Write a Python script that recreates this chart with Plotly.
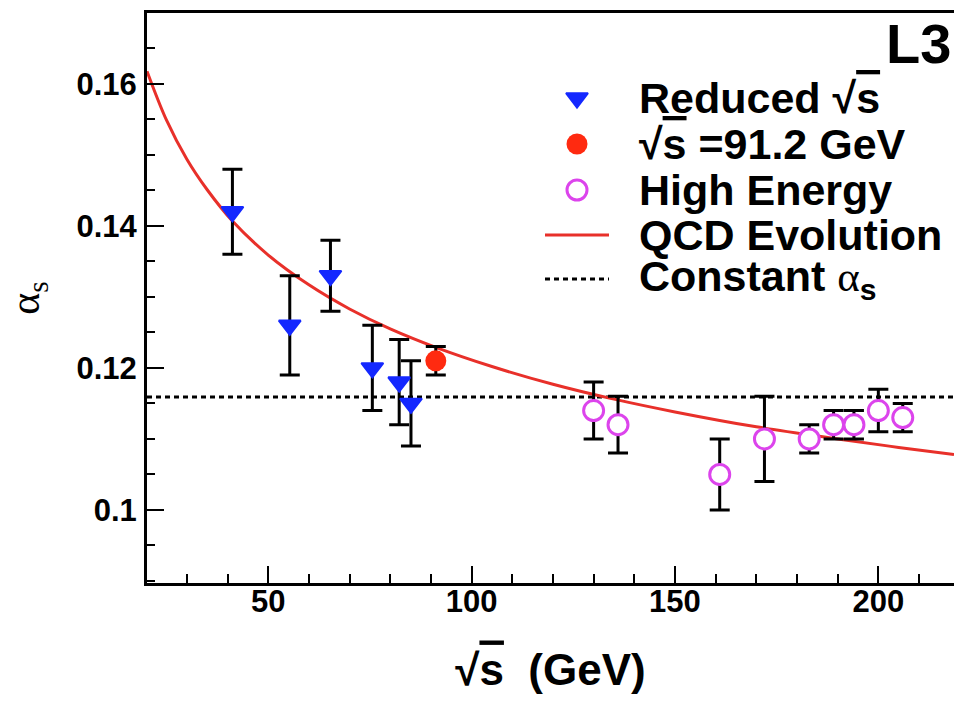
import plotly.graph_objects as go

# --- measurements -----------------------------------------------------------
# reduced centre-of-mass energy points
red_x = [41.2, 55.3, 65.3, 75.6, 82.2, 85.1]
red_y = [0.142, 0.126, 0.133, 0.120, 0.118, 0.115]
red_err = [0.006, 0.007, 0.005, 0.006, 0.006, 0.006]

# Z pole point
z_x = [91.2]
z_y = [0.121]
z_err = [0.002]

# LEP2 high energy points
high_x = [130.0, 136.0, 161.0, 172.0, 183.0, 189.0, 194.0, 200.0, 206.0]
high_y = [0.114, 0.112, 0.105, 0.110, 0.110, 0.112, 0.112, 0.114, 0.113]
high_err = [0.004, 0.004, 0.005, 0.006, 0.002, 0.002, 0.002, 0.003, 0.002]

# QCD evolution curve, sampled along the energy axis
qcd_x = [20.2, 25, 30, 35, 41.2, 50, 60, 70, 80, 91.2, 105, 120, 135, 150,
         170, 190, 205, 218.6]
qcd_y = [0.1618, 0.1549, 0.1494, 0.1451, 0.1407, 0.1359, 0.1317, 0.1283,
         0.1255, 0.1229, 0.1202, 0.1177, 0.1156, 0.1138, 0.1117, 0.1100,
         0.1088, 0.1078]

# constant coupling hypothesis
alpha_const = 0.1159

x_range = [20.2, 218.6]
y_range = [0.0897, 0.1700]

# --- page geometry (pixels) ---------------------------------------------------
W, H = 954, 707
L, R, T, B = 147, 0, 13, 124

FONT = "Liberation Sans"
SERIF = "Liberation Serif"
BLUE = "#1428ff"
RED_M = "#ff2a10"
RED_L = "#e8302a"
MAG = "#dc44ec"

fig = go.Figure()

fig.add_trace(go.Scatter(
    x=qcd_x, y=qcd_y, mode="lines", line=dict(color=RED_L, width=3, shape="spline"),
    hoverinfo="skip", showlegend=False))

err_style = dict(type="data", color="black", thickness=3, width=10)

tri_marker = dict(symbol="triangle-down", size=19, color=BLUE, line=dict(color=BLUE, width=2))
dot_marker = dict(symbol="circle", size=21, color=RED_M, line=dict(width=0))
ring_marker = dict(symbol="circle", size=20, color="white", line=dict(color=MAG, width=3))

fig.add_trace(go.Scatter(
    x=red_x, y=red_y, mode="markers", marker=tri_marker,
    error_y=dict(array=red_err, **err_style), showlegend=False))

fig.add_trace(go.Scatter(
    x=z_x, y=z_y, mode="markers", marker=dot_marker,
    error_y=dict(array=z_err, **err_style), showlegend=False))

fig.add_trace(go.Scatter(
    x=high_x, y=high_y, mode="markers", marker=ring_marker,
    error_y=dict(array=high_err, **err_style), showlegend=False))

fig.add_shape(type="line", xref="x domain", yref="y", x0=0, x1=1,
              y0=alpha_const, y1=alpha_const, layer="below",
              line=dict(color="black", width=3, dash="5px,4px"))

# --- legend keys, drawn on a pixel-coordinate overlay -------------------------
KEY_X = 577
KEY_LINE = [545, 609]
TEXT_X = 637
ROWS = [98, 144, 190, 235, 279]

for row, mk in zip(ROWS[:3], [tri_marker, dot_marker, ring_marker]):
    fig.add_trace(go.Scatter(
        x=[KEY_X], y=[row], xaxis="x2", yaxis="y2", mode="markers", marker=mk,
        showlegend=False, hoverinfo="skip", cliponaxis=False))
fig.add_trace(go.Scatter(
    x=KEY_LINE, y=[ROWS[3], ROWS[3]], xaxis="x2", yaxis="y2", mode="lines",
    line=dict(color=RED_L, width=3), showlegend=False, hoverinfo="skip"))
fig.add_trace(go.Scatter(
    x=KEY_LINE, y=[ROWS[4], ROWS[4]], xaxis="x2", yaxis="y2", mode="lines",
    line=dict(color="black", width=3, dash="5px,4px"), showlegend=False, hoverinfo="skip"))

OVL = '<span style="text-decoration:overline">s</span>'
ALPHA = f'<span style="font-family:{SERIF};font-weight:normal">α</span>'
labels = [
    f"Reduced √{OVL}",
    f"√{OVL} =91.2 GeV",
    "High Energy",
    "QCD Evolution",
    f"Constant {ALPHA}<sub>s</sub>",
]
for row, text in zip(ROWS, labels):
    fig.add_annotation(x=TEXT_X, y=row, xref="x2", yref="y2", text=text,
                       showarrow=False, xanchor="left", yanchor="middle",
                       font=dict(family=FONT, size=43, color="black", weight="bold"))

fig.add_annotation(x=953, y=43, xref="x2", yref="y2", text="L3", showarrow=False,
                   xanchor="right", yanchor="middle",
                   font=dict(family=FONT, size=56, color="black", weight="bold"))

tickfont = dict(family=FONT, size=31, color="black", weight="bold")

fig.update_layout(
    width=W, height=H,
    margin=dict(l=L, r=R, t=T, b=B, pad=0),
    paper_bgcolor="white", plot_bgcolor="white",
    showlegend=False,
    xaxis=dict(
        range=x_range, showgrid=False, zeroline=False,
        showline=True, linecolor="black", linewidth=3, mirror=True,
        ticks="inside", ticklen=17, tickwidth=2, tickcolor="black",
        tick0=0, dtick=50, tickfont=tickfont, ticklabelstandoff=-11,
        minor=dict(ticks="inside", ticklen=9, tickwidth=2, tickcolor="black", dtick=10, tick0=0),
        title=dict(text=f"√{OVL}  (GeV)", standoff=36,
                   font=dict(family=FONT, size=44, color="black", weight="bold")),
    ),
    yaxis=dict(
        range=y_range, showgrid=False, zeroline=False,
        showline=True, linecolor="black", linewidth=3,
        ticks="inside", ticklen=17, tickwidth=2, tickcolor="black",
        tick0=0, dtick=0.02, tickfont=tickfont, ticklabelstandoff=1,
        minor=dict(ticks="inside", ticklen=8, tickwidth=2, tickcolor="black", dtick=0.005, tick0=0),
        title=dict(text=f"{ALPHA}<sub>s</sub>", standoff=24,
                   font=dict(family=SERIF, size=42, color="black")),
    ),
    xaxis2=dict(range=[L, W - R], overlaying="x", anchor="y2", visible=False,
                fixedrange=True),
    yaxis2=dict(range=[H - B, T], overlaying="y", anchor="x2", visible=False,
                fixedrange=True),
)

fig.write_html("out.html")
